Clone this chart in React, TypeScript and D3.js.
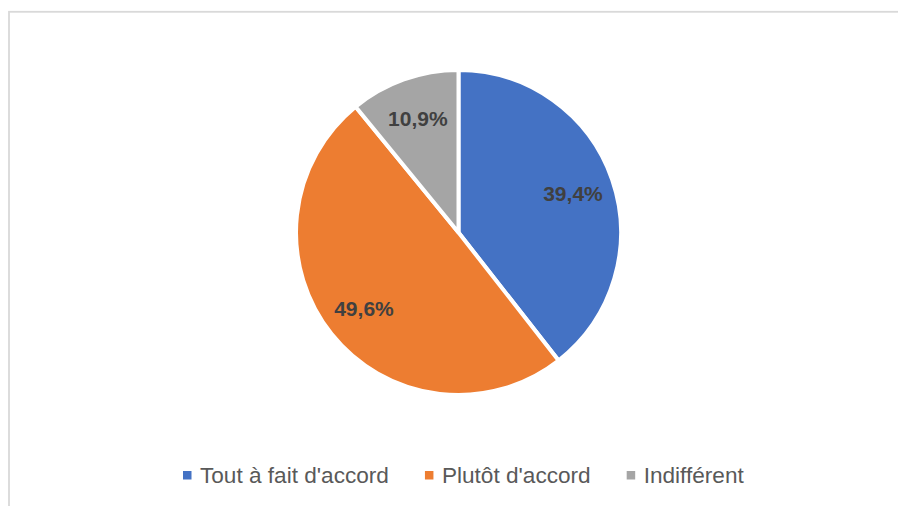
import React, { useEffect, useRef } from "react";
import * as d3 from "d3";

const categories = ["Tout à fait d'accord", "Plutôt d'accord", "Indifférent"];
const values = [39.4, 49.6, 10.9];
const labels = ["39,4%", "49,6%", "10,9%"];
const colors = ["#4472C4", "#ED7D31", "#A5A5A5"];

const W = 898;
const H = 506;

export default function App() {
  const ref = useRef<SVGSVGElement | null>(null);

  useEffect(() => {
    const svg = d3.select(ref.current);
    svg.selectAll("*").remove();

    // chart border
    svg
      .append("rect")
      .attr("x", 9)
      .attr("y", 11.8)
      .attr("width", 1000)
      .attr("height", 1000)
      .attr("fill", "#fff")
      .attr("stroke", "#d9d9d9")
      .attr("stroke-width", 1.8);

    const cx = 458.5;
    const cy = 232.5;
    const r = 162.5;

    const pie = d3
      .pie<number>()
      .sort(null)
      .value((d) => d);
    const arcs = pie(values);
    const arc = d3.arc<d3.PieArcDatum<number>>().innerRadius(0).outerRadius(r);
    const labelArc = d3
      .arc<d3.PieArcDatum<number>>()
      .innerRadius(r * 0.745)
      .outerRadius(r * 0.745);

    const g = svg.append("g").attr("transform", `translate(${cx},${cy})`);
    g.selectAll("path")
      .data(arcs)
      .enter()
      .append("path")
      .attr("d", arc)
      .attr("fill", (_d, i) => colors[i])
      .attr("stroke", "#fff")
      .attr("stroke-width", 4)
      .attr("stroke-linejoin", "round");

    g.selectAll("text.lbl")
      .data(arcs)
      .enter()
      .append("text")
      .attr("class", "lbl")
      .attr("transform", (d) => {
        const [x, y] = labelArc.centroid(d);
        return `translate(${x},${y})`;
      })
      .attr("text-anchor", "middle")
      .attr("dy", "0.36em")
      .attr("font-family", "'Liberation Sans', Arial, sans-serif")
      .attr("font-weight", "bold")
      .attr("font-size", 21)
      .attr("fill", "#404040")
      .text((_d, i) => labels[i]);

    // legend
    const legend = svg.append("g");
    let x = 183;
    const baseline = 483;
    categories.forEach((c, i) => {
      legend
        .append("rect")
        .attr("x", x)
        .attr("y", 471)
        .attr("width", 8.5)
        .attr("height", 8.5)
        .attr("fill", colors[i]);
      const t = legend
        .append("text")
        .attr("x", x + 17)
        .attr("y", baseline)
        .attr("font-family", "'Liberation Sans', Arial, sans-serif")
        .attr("font-size", 22.6)
        .attr("fill", "#595959")
        .text(c);
      const w = (t.node() as SVGTextElement).getComputedTextLength();
      x = x + 17 + w + 36;
    });
  }, []);

  return (
    <svg
      ref={ref}
      width={W}
      height={H}
      style={{ position: "absolute", left: 0, top: 0, background: "#fff" }}
    />
  );
}
